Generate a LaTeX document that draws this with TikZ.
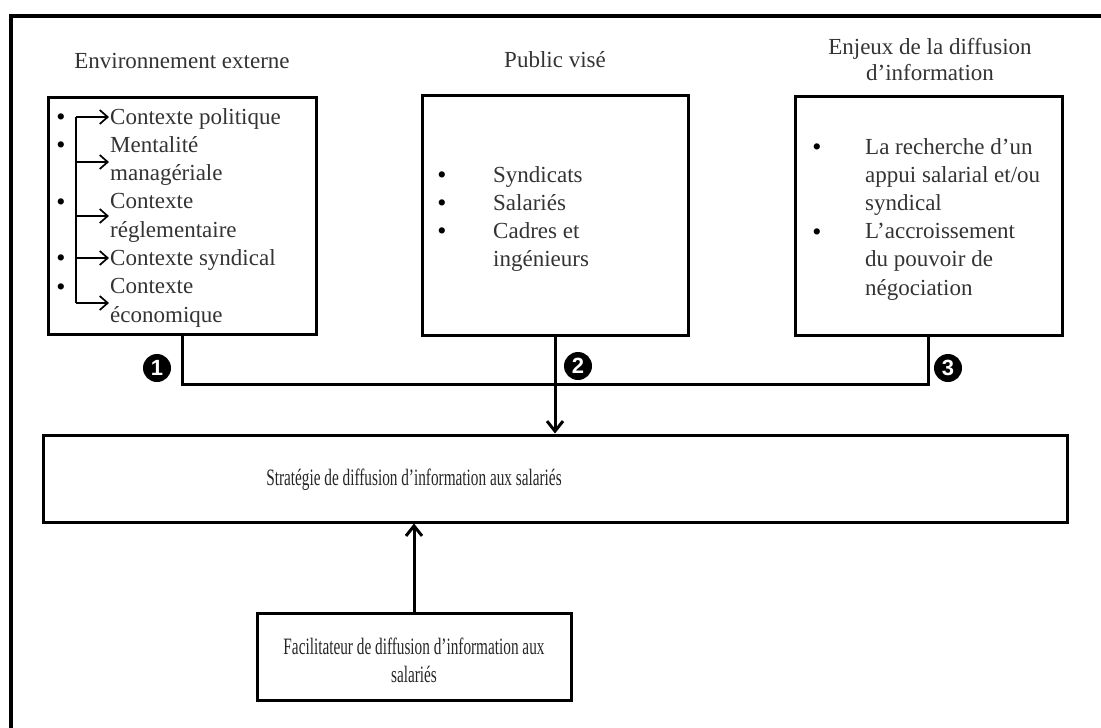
\documentclass[tikz,border=0pt]{standalone}
\usepackage{fontspec}
\usepackage{graphicx}
\setmainfont{Liberation Serif}
\newfontfamily\numfont{Liberation Sans}
\usetikzlibrary{arrows.meta}
\begin{document}
\begin{tikzpicture}[x=1pt,y=-1pt,
  box/.style={draw,line width=3pt,rectangle,inner sep=0},
  txt/.style={font=\fontsize{23}{28}\selectfont,text=black!80,inner sep=0,anchor=base west},
  ttl/.style={font=\fontsize{23}{26}\selectfont,text=black!80,align=center,inner sep=0},
  btxt/.style={font=\fontsize{23.5}{28}\selectfont,text=black!85,align=center,inner sep=0},
  bul/.style={font=\fontsize{26}{26}\selectfont,text=black,inner sep=0,anchor=base},
  conn/.style={line width=3pt},
  tip/.style={-{Straight Barb[length=10pt,width=16pt,line width=3pt]}},
  sline/.style={line width=1.7pt},
  stip/.style={line width=1.7pt,-{Straight Barb[length=8pt,width=14pt,line width=1.7pt]}},
  num/.style={circle,fill=black,text=white,inner sep=0,minimum size=28pt,font=\numfont\bfseries\fontsize{22}{22}\selectfont}
]
\useasboundingbox (0,0) rectangle (1101,728);
% outer frame (cut off at right and bottom)
\draw[line width=4pt] (10.5,728) -- (10.5,16) -- (1101,16);

% titles
\node[ttl] (h1) at (182,61) {Environnement externe};
\node[ttl] (h2) at (555,60) {Public visé};
\node[ttl] (h3) at (930,60) {Enjeux de la diffusion\\d’information};

% boxes
\node[box,minimum width=268pt,minimum height=237pt] (b1) at (182,215.5) {};
\node[box,minimum width=266pt,minimum height=240pt] (b2) at (555,215) {};
\node[box,minimum width=267pt,minimum height=239pt] (b3) at (928.5,215.5) {};
\node[box,minimum width=1024pt,minimum height=87pt] (strat) at (555,478.5) {};
\node[box,minimum width=314pt,minimum height=87pt] (facil) at (414,656.5) {};

% box 1 content
\node[txt] (t11) at (110,124) {Contexte politique};
\node[txt] (t12) at (110,152.3) {Mentalité};
\node[txt] (t13) at (110,180.6) {managériale};
\node[txt] (t14) at (110,208.9) {Contexte};
\node[txt] (t15) at (110,237.2) {réglementaire};
\node[txt] (t16) at (110,265.5) {Contexte syndical};
\node[txt] (t17) at (110,293.8) {Contexte};
\node[txt] (t18) at (110,322.1) {économique};
\foreach \y [count=\i] in {117,145,202,258,287} {
  \node[bul] (p1\i) at (61,\y+8) {•};
}
\coordinate (br1) at (76,117);
\coordinate (br2) at (76,162);
\coordinate (br3) at (76,216);
\coordinate (br4) at (76,258);
\coordinate (br5) at (76,303);
\coordinate (a1) at (109,117);
\coordinate (a2) at (109,162);
\coordinate (a3) at (109,216);
\coordinate (a4) at (109,258);
\coordinate (a5) at (109,303);
\draw[sline] (br1) -- (br5);
\foreach \i in {1,...,5} { \draw[stip] (br\i) -- (a\i); }

% box 2 content
\node[txt] (t21) at (493,182) {Syndicats};
\node[txt] (t22) at (493,210) {Salariés};
\node[txt] (t23) at (493,238) {Cadres et};
\node[txt] (t24) at (493,266) {ingénieurs};
\foreach \y [count=\i] in {175,203,231} {
  \node[bul] (p2\i) at (442,\y+8) {•};
}

% box 3 content
\node[txt] (t31) at (865,154) {La recherche d’un};
\node[txt] (t32) at (865,182.2) {appui salarial et/ou};
\node[txt] (t33) at (865,210.4) {syndical};
\node[txt] (t34) at (865,238.6) {L’accroissement};
\node[txt] (t35) at (865,266.8) {du pouvoir de};
\node[txt] (t36) at (865,295) {négociation};
\foreach \y [count=\i] in {147,232} {
  \node[bul] (p3\i) at (817,\y+8) {•};
}

% bottom texts
\node[btxt] (st) at (414,480) {\scalebox{0.65}[1]{Stratégie de diffusion d’information aux salariés}};
\node[btxt] (ft) at (414,660) {\scalebox{0.65}[1]{Facilitateur de diffusion d’information aux}\\\scalebox{0.65}[1]{salariés}};

% connectors
\coordinate (bus) at (0,384);
\draw[conn] (b1.south) -- (b1.south |- bus) -| (b3.south);
\draw[conn,tip] (b2.south) -- (b2.south |- strat.north);
\draw[conn,tip] (facil.north) -- (facil.north |- strat.south);

% numbers
\node[num] (n1) at (157,368) {1};
\node[num] (n2) at (578,366) {2};
\node[num] (n3) at (948,368) {3};
\end{tikzpicture}
\end{document}
